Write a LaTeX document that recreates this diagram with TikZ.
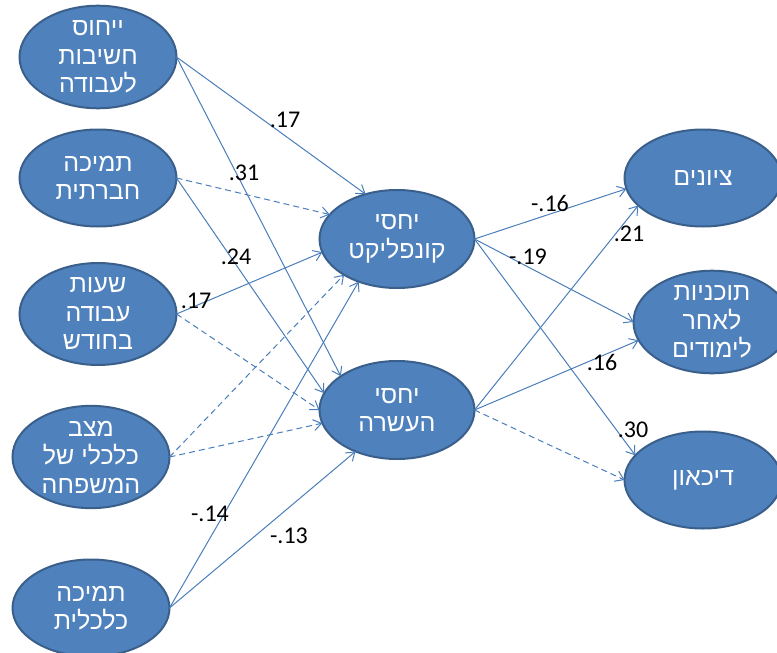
\documentclass[tikz,border=0pt]{standalone}
\usepackage{fontspec}
\setmainfont{Carlito}
\newfontfamily\hebfont[Script=Hebrew]{Liberation Sans}
\TeXXeTstate=1
\usetikzlibrary{shapes.geometric,arrows.meta}
% one right-to-left line of Hebrew
\newcommand\rtl[1]{\beginR #1\endR}
\definecolor{ovalfill}{HTML}{4F81BD}
\definecolor{ovaledge}{HTML}{3A5F8B}
\definecolor{linkcol}{HTML}{4A7EBB}
\tikzset{
  oval/.style={ellipse, draw=ovaledge, line width=2pt, fill=ovalfill,
    minimum width=157pt, minimum height=97pt, inner sep=0pt, outer sep=0pt,
    text=white, align=center, font={\hebfont\fontsize{25}{28.5}\selectfont}},
  midoval/.style={oval, minimum width=155pt, minimum height=98pt},
  link/.style={draw=linkcol, line width=1pt,
    -{Straight Barb[length=8pt,width=11pt]}},
  weak/.style={link, dash pattern=on 6pt off 4pt},
  coef/.style={font=\fontsize{24}{28}\selectfont, inner sep=0pt, text=black}
}
\begin{document}
\begin{tikzpicture}[x=1pt,y=-1pt]
\useasboundingbox (0,0) rectangle (777,653);
\clip (0,0) rectangle (777,653);

% predictors
\node[oval] (imp) at (98,57) {\rtl{ייחוס}\\\rtl{חשיבות}\\\rtl{לעבודה}};
\node[oval] (soc) at (98,178) {\rtl{תמיכה}\\\rtl{חברתית}};
\node[oval] (hrs) at (98,314) {\rtl{שעות}\\\rtl{עבודה}\\\rtl{בחודש}};
\node[oval] (fam) at (91,457) {\rtl{מצב}\\\rtl{כלכלי של}\\\rtl{המשפחה}};
\node[oval] (fin) at (91,608) {\rtl{תמיכה}\\\rtl{כלכלית}};

% mediators
\node[midoval] (con) at (397,239) {\rtl{יחסי}\\\rtl{קונפליקט}};
\node[midoval] (enr) at (397,410) {\rtl{יחסי}\\\rtl{העשרה}};

% outcomes
\node[oval] (grd) at (703,178) {\rtl{ציונים}};
\node[oval] (pln) at (712,322) {\rtl{תוכניות}\\\rtl{לאחר}\\\rtl{לימודים}};
\node[oval] (dep) at (703,480) {\rtl{דיכאון}};

% paths into the mediators
\draw[link] (imp.east) -- (con.125);
\draw[link] (imp.east) -- (enr.149);
\draw[weak] (soc.east) -- (con.160);
\draw[link] (soc.east) -- (enr.167);
\draw[link] (hrs.east) -- (con.190);
\draw[weak] (hrs.east) -- (enr.180);
\draw[weak] (fam.east) -- (con.214);
\draw[weak] (fam.east) -- (enr.190);
\draw[link] (fin.east) -- (con.228);
\draw[link] (fin.east) -- (enr.225);

% paths into the outcomes
\draw[link] (con.east) -- (grd.188);
\draw[link] (con.east) -- (pln.180);
\draw[link] (con.east) -- (dep.160);
\draw[link] (enr.east) -- (grd.203);
\draw[link] (enr.east) -- (pln.194);
\draw[weak] (enr.east) -- (dep.180);

% path coefficients
\node[coef] (c1) at (285,120) {.17};
\node[coef] (c2) at (244,173) {.31};
\node[coef] (c3) at (236,257) {.24};
\node[coef] (c4) at (196,301) {.17};
\node[coef] (c5) at (210,514) {-.14};
\node[coef] (c6) at (289,536) {-.13};
\node[coef] (c7) at (550,203) {-.16};
\node[coef] (c8) at (528,257) {-.19};
\node[coef] (c9) at (629,234) {.21};
\node[coef] (c10) at (602,362) {.16};
\node[coef] (c11) at (633,430) {.30};
\end{tikzpicture}
\end{document}
